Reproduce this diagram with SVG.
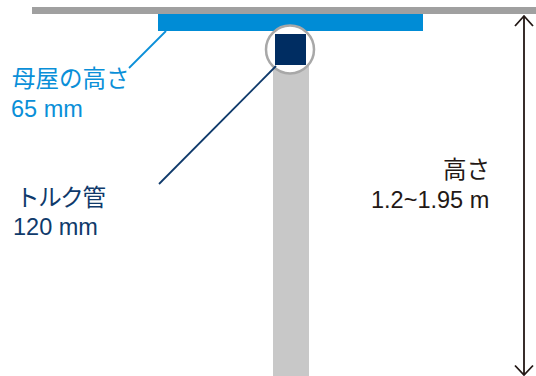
<svg xmlns="http://www.w3.org/2000/svg" width="536" height="376" viewBox="0 0 536 376">
<style>
text{font-family:"Liberation Sans","Noto Sans CJK JP",sans-serif;font-size:23.500px}
.j{font-family:"Noto Sans CJK JP","Liberation Sans",sans-serif;font-size:23.500px}
.blue{fill:#0a8fd8}.navy{fill:#0f3a6b}.dark{fill:#231815}
.ln{fill:none;stroke-width:1.800}
</style>
<rect width="536" height="376" fill="#fff"/>
<g id="ceiling"><rect x="32" y="7" width="504" height="7" fill="#a0a0a0"/></g>
<g id="post"><rect x="273" y="60" width="36" height="316" fill="#c8c8c8"/></g>
<g id="purlin"><rect x="158" y="14" width="265" height="17" fill="#008cd6"/></g>
<g id="torque-tube">
<circle cx="290" cy="49.500" r="24" fill="#fff" stroke="#a8a8a8" stroke-width="2.500"/>
<rect x="275" y="34" width="31" height="31" fill="#002d62"/>
</g>
<g id="connectors">
<path class="ln" stroke="#0a8fd8" d="M166 31L129 68"/>
<path class="ln" stroke="#0f3a6b" d="M276 66L159 184"/>
<path class="ln" stroke="#231815" d="M524 16V375M515 26L524 16L533 26M515 365.500L524 375L533 365.500"/>
</g>
<g id="label-purlin">
<text class="j blue" x="12" y="87">母屋の高さ</text>
<text class="blue" x="11" y="117">65 mm</text>
</g>
<g id="label-tube">
<text class="j navy" x="16" y="206" textLength="90">トルク管</text>
<text class="navy" x="13" y="235">120 mm</text>
</g>
<g id="label-height">
<text class="j dark" x="443" y="178">高さ</text>
<text class="dark" x="371" y="208">1.2~1.95 m</text>
</g>
</svg>
